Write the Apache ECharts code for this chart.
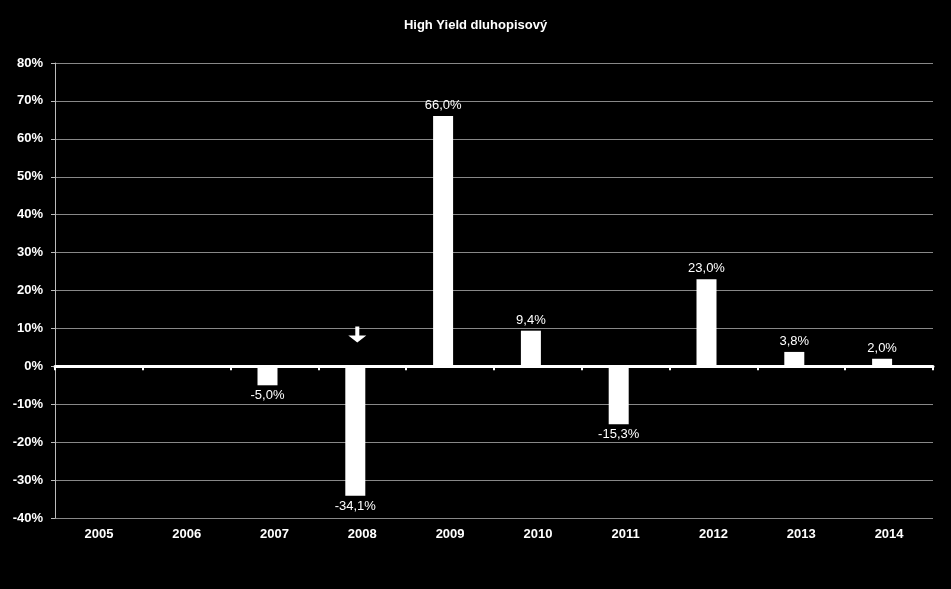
<!DOCTYPE html>
<html><head><meta charset="utf-8">
<script src="https://cdn.jsdelivr.net/npm/echarts@6/dist/echarts.min.js"></script>
<style>html,body{margin:0;padding:0;background:#000}#c{width:951px;height:589px}</style>
</head><body><div id="c"></div>
<script>
const title = 'High Yield dluhopisový';
const years = ['2005','2006','2007','2008','2009','2010','2011','2012','2013','2014'];
const returns = [null, null, -5.0, -34.1, 66.0, 9.4, -15.3, 23.0, 3.8, 2.0];
const emptySeries = [null, null, null, null, null, null, null, null, null, null];
const yTicks = {min: -40, max: 80, step: 10};
const arrowAt = {year: '2008', value: 8.4};

const chart = echarts.init(document.getElementById('c'));
const fmt = v => v.toFixed(1).replace('.', ',') + '%';
const font = 'Liberation Sans';
chart.setOption({
  backgroundColor: '#000',
  animation: false,
  title: {text: title, left: 'center', top: 14,
    textStyle: {color: '#fff', fontSize: 13, fontWeight: 'bold', fontFamily: font}},
  grid: {left: 55, right: 18, top: 63, bottom: 71},
  xAxis: [{
    type: 'category', data: years, position: 'bottom',
    axisLine: {show: false, onZero: false}, axisTick: {show: false},
    axisLabel: {color: '#fff', fontSize: 13, fontWeight: 'bold', fontFamily: font, margin: 10}
  }, {
    type: 'category', data: years, position: 'bottom',
    axisLine: {show: true, onZero: true, lineStyle: {color: '#fff', width: 3}},
    axisTick: {show: true, length: 4, lineStyle: {color: '#fff', width: 2}},
    axisLabel: {show: false}
  }],
  yAxis: {
    type: 'value', min: yTicks.min, max: yTicks.max, interval: yTicks.step,
    axisLine: {show: true, lineStyle: {color: '#bbb', width: 1}},
    axisTick: {show: true, length: 4, lineStyle: {color: '#bbb'}},
    splitLine: {lineStyle: {color: '#888', width: 1}},
    axisLabel: {color: '#fff', fontSize: 13, fontWeight: 'bold', fontFamily: font, margin: 12,
      formatter: v => v + '%'}
  },
  series: [{
    type: 'bar', xAxisIndex: 0, barWidth: 20, barGap: '-30%',
    data: returns.map(v => v == null ? null : {value: v, label: {position: v < 0 ? 'bottom' : 'top'}}),
    itemStyle: {color: '#fff'},
    label: {show: true, color: '#fff', fontSize: 13, fontFamily: font, distance: 4,
      formatter: p => p.value == null ? '' : fmt(p.value)},
    markPoint: {
      symbol: 'path://M7,0 L11,0 L11,9 L18,9 L9,16 L0,9 L7,9 Z',
      symbolSize: [18, 16],
      symbolOffset: [2, 0],
      itemStyle: {color: '#fff'},
      label: {show: false},
      data: [{coord: [arrowAt.year, arrowAt.value]}]
    }
  }, {
    type: 'bar', xAxisIndex: 0, barWidth: 20, data: emptySeries,
    itemStyle: {color: 'transparent'}
  }]
});
</script></body></html>
